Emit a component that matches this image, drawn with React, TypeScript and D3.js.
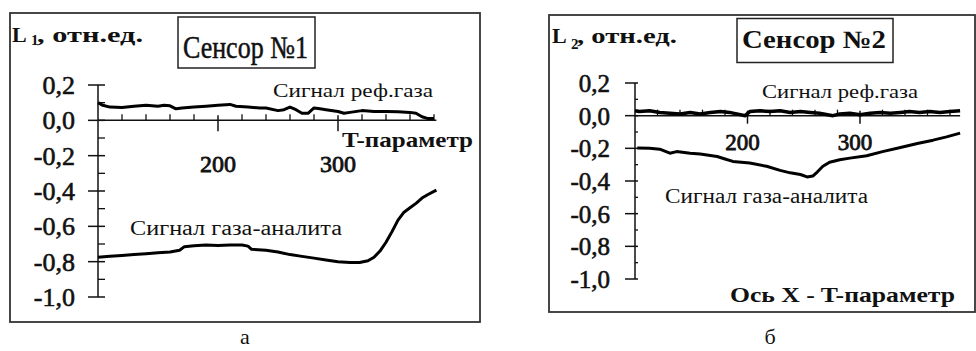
import React from 'react';
import * as d3 from 'd3';

// Сенсор №1: сигнал реф.газа (T-параметр, L1)
const refT1 = [100, 104, 110, 120, 130, 140, 150, 155, 160, 165, 170, 180, 190, 200, 210, 215, 225, 235, 240, 250, 255, 260, 265, 270, 275, 280, 285, 290, 300, 305, 310, 320, 330, 340, 350, 360, 365, 370, 375, 380];
const refL1 = [0.10, 0.085, 0.075, 0.072, 0.08, 0.085, 0.08, 0.085, 0.082, 0.065, 0.07, 0.075, 0.08, 0.085, 0.09, 0.08, 0.075, 0.07, 0.07, 0.055, 0.06, 0.075, 0.06, 0.04, 0.04, 0.07, 0.065, 0.06, 0.05, 0.04, 0.045, 0.055, 0.05, 0.05, 0.048, 0.045, 0.04, 0.02, 0.01, 0.01];

// Сенсор №1: сигнал газа-аналита
const anT1 = [100, 110, 120, 130, 140, 150, 160, 168, 172, 180, 190, 200, 210, 220, 225, 228, 240, 250, 260, 270, 280, 290, 300, 310, 318, 325, 330, 335, 340, 345, 350, 355, 360, 365, 370, 375, 382];
const anL1 = [-0.775, -0.77, -0.765, -0.76, -0.755, -0.75, -0.745, -0.735, -0.715, -0.71, -0.705, -0.708, -0.705, -0.706, -0.712, -0.73, -0.735, -0.745, -0.76, -0.77, -0.78, -0.79, -0.8, -0.805, -0.805, -0.795, -0.775, -0.74, -0.69, -0.63, -0.565, -0.52, -0.495, -0.47, -0.44, -0.42, -0.395];

// Сенсор №2: сигнал реф.газа
const refT2 = [100, 104, 113, 122, 131, 140, 149, 158, 167, 176, 184, 198, 202, 211, 220, 229, 238, 247, 256, 264, 276, 282, 291, 300, 309, 318, 327, 336, 344, 353, 362, 371, 380, 389];
const refL2 = [0.03, 0.025, 0.03, 0.02, 0.015, 0.01, 0.02, 0.01, 0.02, 0.025, 0.02, 0.0, 0.025, 0.03, 0.025, 0.03, 0.02, 0.025, 0.02, 0.015, 0.0, 0.01, 0.015, 0.005, 0.015, 0.02, 0.015, 0.02, 0.025, 0.02, 0.025, 0.02, 0.025, 0.03];

// Сенсор №2: сигнал газа-аналита
const anT2 = [102, 113, 122, 131, 137, 149, 158, 173, 180, 187, 202, 217, 229, 238, 247, 253, 258, 262, 267, 273, 282, 291, 306, 320, 336, 351, 365, 377, 389];
const anL2 = [-0.198, -0.2, -0.205, -0.23, -0.22, -0.23, -0.235, -0.25, -0.265, -0.28, -0.29, -0.31, -0.335, -0.35, -0.36, -0.375, -0.37, -0.345, -0.31, -0.285, -0.27, -0.26, -0.245, -0.22, -0.195, -0.17, -0.15, -0.13, -0.107];

const yTicks = [0.2, 0.0, -0.2, -0.4, -0.6, -0.8, -1.0];
const yTickLabels = ['0,2', '0,0', '-0,2', '-0,4', '-0,6', '-0,8', '-1,0'];
const xTicks = [200, 300];
const xTickLabels = ['200', '300'];

const FONT = 'Liberation Serif';

// текст; heavy — лёгкая обводка, как у размытого скана
function T({ x, y, size, weight = 'normal', len = null, anchor = 'start', heavy = 0, children }) {
  const extra = len ? { textLength: len, lengthAdjust: 'spacingAndGlyphs' } : {};
  return (
    <text x={x} y={y} textAnchor={anchor} fill="#111"
      stroke={heavy ? '#111' : 'none'} strokeWidth={heavy}
      style={{ fontFamily: FONT, fontSize: size, fontWeight: weight }} {...extra}>
      {children}
    </text>
  );
}

function Panel({ p }) {
  const x = d3.scaleLinear().domain(p.xDomain).range(p.xRange);
  const y = d3.scaleLinear().domain([0.2, -1.0]).range(p.yRange);
  const x0 = x(p.xDomain[0]);
  const y0 = y(0);
  const line = d3.line().x(d => x(d[0])).y(d => y(d[1]));
  const minorY = d3.range(-9, 2, 2).map(k => k / 10);
  const minorX = d3.range(120, p.xDomain[1], 20).filter(v => v % 100 !== 0);
  const b = p.box;
  const f = p.frame;

  return (
    <g>
      <rect x={f[0]} y={f[1]} width={f[2] - f[0]} height={f[3] - f[1]}
        fill="none" stroke="#333" strokeWidth={1.8} />

      {/* ось Y */}
      <line x1={x0} x2={x0} y1={y(0.2)} y2={y(-1.0)} stroke="#111" strokeWidth={1.5} />
      {yTicks.map((v, i) => (
        <g key={'y' + i}>
          <line x1={x0 - 10} x2={x0 + p.tickIn} y1={y(v)} y2={y(v)} stroke="#111" strokeWidth={1.5} />
          <T x={p.yLabelX} y={y(v) + 9} size={p.yLabelSize} anchor="end" heavy={0.6}>{yTickLabels[i]}</T>
        </g>
      ))}
      {minorY.map(v => (
        <line key={'my' + v} x1={x0} x2={x0 + p.tickIn} y1={y(v)} y2={y(v)} stroke="#111" strokeWidth={1.3} />
      ))}

      {/* ось X */}
      <line x1={x0} x2={x(p.xDomain[1])} y1={y0} y2={y0} stroke="#111" strokeWidth={1.5} />
      {minorX.map(v => (
        <line key={'mx' + v} x1={x(v)} x2={x(v)} y1={y0 - 6} y2={y0} stroke="#111" strokeWidth={1.3} />
      ))}
      {xTicks.map((v, i) => (
        <g key={'x' + v}>
          <line x1={x(v)} x2={x(v)} y1={y0 - 5} y2={y0 + p.xTickDown} stroke="#111" strokeWidth={1.5} />
          <T x={x(v) + p.xLabelDx} y={p.xLabelY} size={p.xLabelSize} anchor="middle" heavy={0.8}>{xTickLabels[i]}</T>
        </g>
      ))}

      {/* кривые */}
      <path d={line(d3.zip(p.refT, p.refL))} fill="none" stroke="#000"
        strokeWidth={p.refWidth} strokeLinejoin="round" />
      <path d={line(d3.zip(p.anT, p.anL))} fill="none" stroke="#000"
        strokeWidth={3} strokeLinejoin="round" />

      {/* подпись оси Y */}
      <T x={p.lX} y={p.lY} size={22} weight="bold">L</T>
      <T x={p.lX + 19} y={p.lY + p.subDy} size={15} weight="bold">{p.sub}</T>
      <T x={p.lX + 25} y={p.lY} size={22} weight="bold" len={p.unitLen}>, отн.ед.</T>

      {/* табличка сенсора */}
      <rect x={b[0]} y={b[1]} width={b[2] - b[0]} height={b[3] - b[1]}
        fill="none" stroke="#222" strokeWidth={1.5} />
      <T x={b[0] + 5} y={p.titleY} size={p.titleSize} weight={p.titleWeight}
        heavy={p.titleWeight === 'normal' ? 0.5 : 0} len={b[2] - b[0] - 12}>{p.title}</T>

      {p.notes.map(n => (
        <T key={n.s} x={n.x} y={n.y} size={n.size} weight={n.weight || 'normal'} len={n.len}>{n.s}</T>
      ))}
      <T x={p.captionX} y={344} size={22} anchor="middle">{p.caption}</T>
    </g>
  );
}

const panels = [
  {
    xDomain: [100, 382], xRange: [98, 436.4], yRange: [85, 297],
    frame: [10, 13, 480, 322], tickIn: 7, yLabelX: 75, yLabelSize: 26,
    xTickDown: 11, xLabelDx: 0, xLabelY: 172, xLabelSize: 24,
    refT: refT1, refL: refL1, anT: anT1, anL: anL1, refWidth: 3,
    lX: 12, lY: 42, sub: '1', subDy: 3, unitLen: 106,
    box: [178, 17, 315, 68], title: 'Сенсор №1', titleY: 58, titleSize: 31, titleWeight: 'normal',
    notes: [
      { s: 'Сигнал реф.газа', x: 273, y: 97, size: 19, len: 160 },
      { s: 'T-параметр', x: 342, y: 147, size: 22, weight: 'bold', len: 131 },
      { s: 'Сигнал газа-аналита', x: 130, y: 235, size: 20, len: 212 },
    ],
    caption: 'а', captionX: 245,
  },
  {
    xDomain: [100, 389], xRange: [635, 960.1], yRange: [83, 279],
    frame: [549, 15, 975, 312], tickIn: 3, yLabelX: 610, yLabelSize: 25,
    xTickDown: 8, xLabelDx: -5, xLabelY: 150, xLabelSize: 23,
    refT: refT2, refL: refL2, anT: anT2, anL: anL2, refWidth: 3.5,
    lX: 552, lY: 43, sub: '2', subDy: 6, unitLen: 100,
    box: [737, 18.5, 893, 62.5], title: 'Сенсор №2', titleY: 48, titleSize: 25, titleWeight: 'bold',
    notes: [
      { s: 'Сигнал реф.газа', x: 762, y: 98, size: 19, len: 156 },
      { s: 'Сигнал газа-аналита', x: 665, y: 203, size: 20, len: 203 },
      { s: 'Ось X  -  T-параметр', x: 730, y: 302, size: 22, weight: 'bold', len: 225 },
    ],
    caption: 'б', captionX: 770,
  },
];

export default function App() {
  return (
    <svg width={976} height={351} style={{ position: 'absolute', left: 0, top: 0, display: 'block', background: '#fff' }}>
      {panels.map((p, i) => <Panel key={i} p={p} />)}
    </svg>
  );
}
